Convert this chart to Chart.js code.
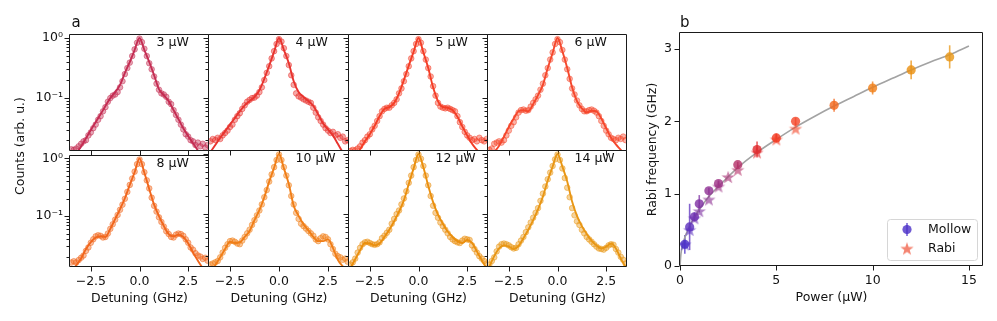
<!DOCTYPE html>
<html>
<head>
<meta charset="utf-8">
<script src="https://cdn.jsdelivr.net/npm/chart.js@4.4.1/dist/chart.umd.min.js"></script>
<style>
  html, body { margin: 0; padding: 0; background: #fff; }
  #fig { position: relative; width: 997px; height: 321px; overflow: hidden; background: #fff; }
  #fig canvas { position: absolute; }
</style>
</head>
<body>
<div id="fig"></div>
<script>
// ---- panel a: spectra (detuning in GHz, counts normalised) ----
const detuning = [-3.5,-3.375,-3.25,-3.125,-3,-2.875,-2.75,-2.625,-2.5,-2.375,-2.25,-2.125,-2,-1.875,-1.75,-1.625,-1.5,-1.375,-1.25,-1.125,-1,-0.875,-0.75,-0.625,-0.5,-0.375,-0.25,-0.125,0,0.125,0.25,0.375,0.5,0.625,0.75,0.875,1,1.125,1.25,1.375,1.5,1.625,1.75,1.875,2,2.125,2.25,2.375,2.5,2.625,2.75,2.875,3,3.125,3.25,3.375,3.5];
const fitDetuning = [-3.5,-3.25,-3,-2.75,-2.5,-2.25,-2,-1.75,-1.5,-1.25,-1,-0.75,-0.5,-0.25,0,0.25,0.5,0.75,1,1.25,1.5,1.75,2,2.25,2.5,2.75,3,3.25,3.5];
const powerLabels = ['3 µW','4 µW','5 µW','6 µW','8 µW','10 µW','12 µW','14 µW'];

const counts3 = [0.0141,0.0138,0.0145,0.0158,0.0174,0.0191,0.0200,0.0240,0.0269,0.0316,0.0363,0.0437,0.0501,0.0603,0.0708,0.0871,0.100,0.110,0.115,0.126,0.151,0.191,0.251,0.316,0.389,0.501,0.646,0.832,0.977,0.851,0.661,0.501,0.380,0.302,0.229,0.174,0.138,0.120,0.115,0.105,0.0871,0.0794,0.0631,0.0525,0.0437,0.0363,0.0302,0.0251,0.0229,0.0200,0.0191,0.0166,0.0182,0.0158,0.0174,0.0151,0.0166];
const counts4 = [0.0191,0.0209,0.0200,0.0219,0.0209,0.0240,0.0263,0.0288,0.0331,0.0363,0.0437,0.0501,0.0562,0.0661,0.0759,0.0871,0.0933,0.100,0.102,0.110,0.126,0.151,0.200,0.263,0.339,0.457,0.603,0.794,0.955,0.871,0.676,0.501,0.355,0.240,0.166,0.120,0.107,0.102,0.0955,0.0912,0.0871,0.0832,0.0692,0.0575,0.0479,0.0417,0.0363,0.0316,0.0288,0.0263,0.0275,0.0240,0.0251,0.0219,0.0229,0.0191,0.0200];
const counts5 = [0.0132,0.0138,0.0135,0.0145,0.0158,0.0182,0.0200,0.0229,0.0251,0.0302,0.0347,0.0417,0.0501,0.0603,0.0661,0.0692,0.0692,0.0759,0.0832,0.0955,0.120,0.145,0.191,0.251,0.339,0.457,0.603,0.794,0.955,0.832,0.603,0.437,0.316,0.229,0.158,0.110,0.0832,0.0724,0.0692,0.0676,0.0692,0.0661,0.0631,0.0603,0.0501,0.0398,0.0331,0.0275,0.0240,0.0219,0.0200,0.0209,0.0191,0.0219,0.0200,0.0191,0.0209];
const counts6 = [0.0138,0.0145,0.0174,0.0182,0.0191,0.0182,0.0200,0.0240,0.0288,0.0347,0.0398,0.0479,0.0575,0.0631,0.0646,0.0617,0.0631,0.0724,0.0832,0.0955,0.110,0.138,0.174,0.240,0.316,0.437,0.575,0.794,0.955,0.851,0.631,0.437,0.302,0.209,0.145,0.115,0.0912,0.0759,0.0661,0.0603,0.0603,0.0631,0.0646,0.0617,0.0575,0.0501,0.0417,0.0347,0.0288,0.0251,0.0219,0.0209,0.0200,0.0219,0.0209,0.0229,0.0200];
const counts8 = [0.0158,0.0166,0.0158,0.0174,0.0191,0.0209,0.0251,0.0288,0.0347,0.0398,0.0447,0.0468,0.0457,0.0427,0.0437,0.0501,0.0603,0.0724,0.0871,0.105,0.129,0.158,0.200,0.263,0.347,0.447,0.589,0.794,0.955,0.794,0.575,0.417,0.302,0.209,0.151,0.120,0.0955,0.0794,0.0661,0.0550,0.0490,0.0437,0.0427,0.0479,0.0501,0.0490,0.0457,0.0398,0.0347,0.0288,0.0263,0.0229,0.0209,0.0200,0.0182,0.0191,0.0170];
const counts10 = [0.0145,0.0151,0.0158,0.0166,0.0191,0.0229,0.0275,0.0316,0.0355,0.0363,0.0347,0.0324,0.0316,0.0363,0.0417,0.0479,0.0550,0.0661,0.0794,0.0955,0.115,0.145,0.191,0.251,0.347,0.457,0.603,0.794,0.977,0.794,0.603,0.437,0.302,0.200,0.145,0.105,0.0832,0.0692,0.0631,0.0575,0.0525,0.0479,0.0437,0.0380,0.0355,0.0398,0.0427,0.0417,0.0380,0.0316,0.0263,0.0219,0.0200,0.0191,0.0174,0.0182,0.0162];
const counts12 = [0.0145,0.0158,0.0182,0.0229,0.0275,0.0316,0.0339,0.0347,0.0331,0.0316,0.0309,0.0316,0.0339,0.0398,0.0437,0.0490,0.0550,0.0692,0.0832,0.100,0.115,0.145,0.182,0.240,0.331,0.437,0.603,0.794,0.977,0.832,0.631,0.437,0.302,0.200,0.138,0.105,0.0871,0.0724,0.0631,0.0550,0.0479,0.0417,0.0380,0.0355,0.0339,0.0331,0.0363,0.0389,0.0380,0.0372,0.0302,0.0263,0.0229,0.0200,0.0182,0.0166,0.0151];
const counts14 = [0.0145,0.0166,0.0191,0.0240,0.0288,0.0316,0.0324,0.0316,0.0302,0.0282,0.0269,0.0275,0.0316,0.0363,0.0417,0.0501,0.0603,0.0724,0.0871,0.105,0.126,0.166,0.219,0.288,0.380,0.490,0.631,0.813,0.977,0.794,0.575,0.398,0.275,0.191,0.126,0.0955,0.0759,0.0661,0.0550,0.0479,0.0417,0.0380,0.0347,0.0316,0.0288,0.0269,0.0263,0.0257,0.0275,0.0302,0.0316,0.0309,0.0263,0.0229,0.0195,0.0174,0.0151];

const fit3 = [0.0087,0.0117,0.0158,0.0214,0.0295,0.0398,0.0537,0.0741,0.100,0.126,0.166,0.263,0.398,0.631,1.0,0.631,0.398,0.240,0.141,0.112,0.0891,0.0631,0.0447,0.0316,0.0234,0.0178,0.0135,0.0100,0.0079];
const fit4 = [0.0126,0.0166,0.0219,0.0282,0.0363,0.0468,0.0603,0.0759,0.0891,0.105,0.135,0.209,0.347,0.589,1.0,0.631,0.380,0.191,0.126,0.105,0.0891,0.0741,0.0537,0.0380,0.0302,0.0240,0.0174,0.0126,0.0095];
const fit5 = [0.0079,0.0105,0.0141,0.0191,0.0251,0.0347,0.0501,0.0661,0.0708,0.0832,0.120,0.200,0.347,0.589,1.0,0.575,0.316,0.151,0.0891,0.0708,0.0692,0.0631,0.0490,0.0339,0.0240,0.0174,0.0138,0.0110,0.0087];
const fit6 = [0.0095,0.0126,0.0162,0.0229,0.0331,0.0457,0.0603,0.0631,0.0603,0.0794,0.112,0.166,0.316,0.562,1.0,0.603,0.316,0.151,0.0891,0.0676,0.0575,0.0617,0.0603,0.0457,0.0316,0.0219,0.0170,0.0138,0.0110];
const fit8 = [0.0100,0.0141,0.0186,0.0269,0.0355,0.0427,0.0447,0.0437,0.0603,0.0891,0.132,0.204,0.347,0.575,1.0,0.562,0.295,0.158,0.100,0.0676,0.0490,0.0447,0.0479,0.0437,0.0339,0.0234,0.0170,0.0126,0.0095];
const fit10 = [0.0105,0.0141,0.0191,0.0263,0.0347,0.0331,0.0339,0.0417,0.0525,0.0794,0.117,0.191,0.347,0.589,1.0,0.575,0.316,0.138,0.0933,0.0676,0.0537,0.0417,0.0355,0.0355,0.0380,0.0275,0.0174,0.0135,0.0105];
const fit12 = [0.0126,0.0178,0.0251,0.0331,0.0324,0.0302,0.0324,0.0417,0.0550,0.0759,0.110,0.170,0.316,0.575,1.0,0.603,0.295,0.158,0.0977,0.0692,0.0513,0.0417,0.0355,0.0331,0.0372,0.0331,0.0240,0.0170,0.0126];
const fit14 = [0.0135,0.0200,0.0269,0.0302,0.0288,0.0263,0.0295,0.0398,0.0550,0.0794,0.120,0.195,0.363,0.617,1.0,0.617,0.347,0.162,0.0933,0.0631,0.0468,0.0363,0.0302,0.0269,0.0288,0.0324,0.0269,0.0182,0.0132];

const detuningTicks = [-2.5, 0, 2.5];
const countMajorTicks = [0.1, 1];
const countMinorTicks = [0.02,0.03,0.04,0.05,0.06,0.07,0.08,0.09,0.2,0.3,0.4,0.5,0.6,0.7,0.8,0.9];

// ---- panel b: Rabi frequency vs power ----
const mollowPower = [0.25,0.5,0.75,1,1.5,2,3,4,5,6,8,10,12,14];
const mollowRabi  = [0.30,0.54,0.68,0.86,1.04,1.14,1.40,1.61,1.77,2.00,2.22,2.46,2.71,2.89];
const mollowErr   = [0.13,0.32,0.06,0.12,0.04,0.04,0.04,0.11,0.06,0.05,0.09,0.09,0.13,0.16];
const rabiPower = [0.25,0.5,0.75,1,1.5,2,2.5,3,4,5,6];
const rabiFreq  = [0.30,0.50,0.66,0.76,0.92,1.10,1.23,1.33,1.57,1.75,1.90];
const fitPower = [0,0.05,0.15,0.3,0.5,0.75,1,1.5,2,3,4,5,6,7,8,9,10,11,12,13,14,15];
const fitRabi  = [0,0.17,0.30,0.43,0.55,0.68,0.78,0.96,1.10,1.36,1.57,1.75,1.92,2.07,2.21,2.34,2.47,2.59,2.71,2.82,2.92,3.04];

// colours
const spectrumColors = ['#c42c52','#e8332e','#f43d26','#f5472c','#f1661c','#f07e17','#ea8f0e','#e89614'];
const mollowColors = ['#4b30c8','#5c30be','#6e30b1','#7e30a2','#8e3093','#9c3084','#b42f68','#e0282c','#f23a22','#f4472a','#f1661c','#f07e17','#ea8f0e','#e89614'];
const rabiColors = ['#4b30c8','#5c30be','#6e30b1','#7e30a2','#8e3093','#9c3084','#aa3076','#b42f68','#e0282c','#f23a22','#f4472a'];

const spectra = [counts3, counts4, counts5, counts6, counts8, counts10, counts12, counts14];
const fits = [fit3, fit4, fit5, fit6, fit8, fit10, fit12, fit14];

Chart.defaults.font.family = "'DejaVu Sans'";
Chart.defaults.font.size = 12.5;
Chart.defaults.color = '#111';

const FONT = "'DejaVu Sans'";

function rgba(hex, a) {
  const n = parseInt(hex.slice(1), 16);
  return 'rgba(' + (n >> 16) + ',' + ((n >> 8) & 255) + ',' + (n & 255) + ',' + a + ')';
}

function addCanvas(left, top, w, h) {
  const c = document.createElement('canvas');
  c.width = w; c.height = h;
  c.style.left = left + 'px'; c.style.top = top + 'px';
  c.style.width = w + 'px'; c.style.height = h + 'px';
  document.getElementById('fig').appendChild(c);
  return c;
}

// frame + tick marks (matplotlib style, outward)
const axisMarks = {
  id: 'axisMarks',
  afterDraw(chart, args, o) {
    const { ctx, chartArea: a } = chart;
    const xs = chart.scales.x, ys = chart.scales.y;
    const L = Math.round(a.left) - 0.5, R = Math.round(a.right) - 0.5;
    const T = Math.round(a.top) - 0.5, B = Math.round(a.bottom) - 0.5;
    ctx.save();
    ctx.strokeStyle = '#1a1a1a';
    ctx.lineWidth = 1;
    ctx.beginPath();
    ctx.rect(L, T, R - L, B - T);
    (o.xMajor || []).forEach(v => {
      const p = Math.round(xs.getPixelForValue(v)) + 0.5;
      ctx.moveTo(p, B); ctx.lineTo(p, B + 5);
    });
    (o.yMajor || []).forEach(v => {
      const p = Math.round(ys.getPixelForValue(v)) + 0.5;
      ctx.moveTo(L, p); ctx.lineTo(L - 5, p);
    });
    (o.yMinor || []).forEach(v => {
      const p = Math.round(ys.getPixelForValue(v)) + 0.5;
      ctx.moveTo(L, p); ctx.lineTo(L - 3, p);
    });
    ctx.stroke();
    ctx.restore();
  }
};

// free text placed relative to the chart area
const textMarks = {
  id: 'textMarks',
  afterDraw(chart, args, o) {
    const { ctx, chartArea: a } = chart;
    ctx.save();
    ctx.fillStyle = '#111';
    (o.items || []).forEach(t => {
      ctx.save();
      ctx.font = (t.size || 12.5) + 'px ' + FONT;
      ctx.textAlign = t.align || 'left';
      ctx.textBaseline = t.baseline || 'middle';
      ctx.translate(a.left + t.x, a.top + t.y);
      if (t.rot) ctx.rotate(t.rot);
      ctx.fillText(t.text, 0, 0);
      ctx.restore();
    });
    ctx.restore();
  }
};

const fmtDet = v => (v < 0 ? '\u2212' : '') + Math.abs(v).toFixed(1);
const fmtLog = v => (v === 1 ? '10\u2070' : (v === 0.1 ? '10\u207B\u00B9' : ''));

// ---- panel a: 2 x 4 grid ----
const colL = [70, 209, 349, 488];
const colR = [209, 349, 488, 627];
const rowT = [35, 151];
const rowB = [151, 267];

spectra.forEach((counts, i) => {
  const r = Math.floor(i / 4), c = i % 4;
  const L = colL[c], R = colR[c], T = rowT[r], B = rowB[r];
  const padTop = r === 0 ? 30 : 10;
  const cv = addCanvas(L - 62, T - padTop, (R - L) + 62 + 10, (B - T) + padTop + 50);
  const col = spectrumColors[i];
  const items = [{ text: powerLabels[i], x: 86.5, y: 8 }];
  if (i === 0) {
    items.push({ text: 'a', x: 1.5, y: -8.5, size: 15, baseline: 'alphabetic' });
    items.push({ text: 'Counts (arb. u.)', x: -49, y: 111, rot: -Math.PI / 2, align: 'center' });
  }
  new Chart(cv, {
    type: 'line',
    data: {
      datasets: [
        {
          data: fitDetuning.map((x, k) => ({ x, y: fits[i][k] })),
          borderColor: col, borderWidth: 1.9, pointRadius: 0,
          cubicInterpolationMode: 'monotone', fill: false
        },
        {
          data: detuning.map((x, k) => ({ x, y: counts[k] })),
          showLine: false, pointRadius: 2.8, pointBorderWidth: 0.8,
          pointBackgroundColor: rgba(col, 0.42), pointBorderColor: rgba(col, 0.62)
        }
      ]
    },
    options: {
      responsive: false, animation: false, events: [],
      layout: { padding: { left: 0, top: padTop, right: 10, bottom: 0 } },
      plugins: {
        legend: { display: false }, tooltip: { enabled: false },
        axisMarks: { xMajor: detuningTicks, yMajor: countMajorTicks, yMinor: countMinorTicks },
        textMarks: { items }
      },
      scales: {
        x: {
          type: 'linear', min: -3.57, max: 3.57,
          afterFit: s => { s.height = 50; },
          afterBuildTicks: s => { s.ticks = detuningTicks.map(v => ({ value: v })); },
          grid: { display: false, drawTicks: false }, border: { display: false },
          ticks: { display: r === 1, padding: 7, autoSkip: false, maxRotation: 0, callback: fmtDet },
          title: { display: r === 1, text: 'Detuning (GHz)', padding: { top: 0, bottom: 10.5 } }
        },
        y: {
          type: 'logarithmic', min: 0.0132, max: 1.12,
          afterFit: s => { s.width = 62; },
          afterBuildTicks: s => { s.ticks = countMajorTicks.map(v => ({ value: v })); },
          grid: { display: false, drawTicks: false }, border: { display: false },
          ticks: { display: c === 0, padding: 7, autoSkip: false, callback: fmtLog }
        }
      }
    },
    plugins: [axisMarks, textMarks]
  });
});

// ---- panel b ----
function starImage(hex, alpha, R) {
  const s = Math.ceil(R * 2 + 2);
  const cv = document.createElement('canvas');
  cv.width = s; cv.height = s;
  const g = cv.getContext('2d');
  g.translate(s / 2, s / 2 + R * 0.1);
  g.beginPath();
  for (let k = 0; k < 10; k++) {
    const rr = k % 2 ? R * 0.4 : R;
    const ang = -Math.PI / 2 + k * Math.PI / 5;
    g.lineTo(rr * Math.cos(ang), rr * Math.sin(ang));
  }
  g.closePath();
  g.fillStyle = rgba(hex, alpha);
  g.fill();
  return cv;
}

const errorBars = {
  id: 'errorBars',
  beforeDatasetsDraw(chart) {
    const { ctx } = chart;
    const xs = chart.scales.x, ys = chart.scales.y;
    ctx.save();
    ctx.lineWidth = 1.6;
    mollowPower.forEach((p, k) => {
      const x = xs.getPixelForValue(p);
      ctx.strokeStyle = rgba(mollowColors[k], 0.75);
      ctx.beginPath();
      ctx.moveTo(x, ys.getPixelForValue(mollowRabi[k] - mollowErr[k]));
      ctx.lineTo(x, ys.getPixelForValue(mollowRabi[k] + mollowErr[k]));
      ctx.stroke();
    });
    ctx.restore();
  }
};

const legendBox = {
  id: 'legendBox',
  afterDraw(chart) {
    const { ctx, chartArea: a } = chart;
    const w = 90, h = 41;
    const x0 = Math.round(a.right) - 6 - w, y0 = Math.round(a.bottom) - 6 - h;
    ctx.save();
    ctx.beginPath();
    ctx.roundRect(x0 + 0.5, y0 + 0.5, w, h, 3);
    ctx.fillStyle = 'rgba(255,255,255,0.8)';
    ctx.fill();
    ctx.strokeStyle = '#d6d6d6';
    ctx.lineWidth = 1;
    ctx.stroke();
    // Mollow entry
    const mx = x0 + 20, my1 = y0 + 10.5, my2 = y0 + 29.5;
    ctx.strokeStyle = rgba('#4b30c8', 0.75);
    ctx.lineWidth = 1.6;
    ctx.beginPath(); ctx.moveTo(mx, my1 - 6.5); ctx.lineTo(mx, my1 + 6.5); ctx.stroke();
    ctx.fillStyle = rgba('#4b30c8', 0.8);
    ctx.beginPath(); ctx.arc(mx, my1, 4.6, 0, Math.PI * 2); ctx.fill();
    // Rabi entry
    const st = starImage('#f0553a', 0.72, 7);
    ctx.drawImage(st, mx - st.width / 2, my2 - st.height / 2);
    ctx.fillStyle = '#111';
    ctx.font = '12.5px ' + FONT;
    ctx.textAlign = 'left';
    ctx.textBaseline = 'middle';
    ctx.fillText('Mollow', x0 + 41, my1);
    ctx.fillText('Rabi', x0 + 41, my2);
    ctx.restore();
  }
};

const cvB = addCanvas(630, 0, 367, 321);
new Chart(cvB, {
  type: 'line',
  data: {
    datasets: [
      {
        data: rabiPower.map((x, k) => ({ x, y: rabiFreq[k] })),
        showLine: false,
        pointStyle: rabiColors.map(cl => starImage(cl, 0.62, 7)),
        pointRadius: 7
      },
      {
        data: mollowPower.map((x, k) => ({ x, y: mollowRabi[k] })),
        showLine: false, pointRadius: 4.6, pointBorderWidth: 0,
        pointBackgroundColor: mollowColors.map(cl => rgba(cl, 0.8))
      },
      {
        data: fitPower.map((x, k) => ({ x, y: fitRabi[k] })),
        borderColor: '#a3a3a3', borderWidth: 1.6, pointRadius: 0,
        cubicInterpolationMode: 'monotone', fill: false
      }
    ]
  },
  options: {
    responsive: false, animation: false, events: [],
    layout: { padding: { left: 0, top: 33, right: 14, bottom: 0 } },
    plugins: {
      legend: { display: false }, tooltip: { enabled: false },
      axisMarks: { xMajor: [0, 5, 10, 15], yMajor: [0, 1, 2, 3] },
      textMarks: { items: [{ text: 'b', x: 0, y: -6.5, size: 15, baseline: 'alphabetic' }] }
    },
    scales: {
      x: {
        type: 'linear', min: 0, max: 15.73,
        afterFit: s => { s.height = 55; },
        grid: { display: false, drawTicks: false }, border: { display: false },
        ticks: { stepSize: 5, includeBounds: false, padding: 7, maxRotation: 0 },
        title: { display: true, text: 'Power (µW)', padding: { top: 0, bottom: 15.8 } }
      },
      y: {
        type: 'linear', min: 0, max: 3.22,
        afterFit: s => { s.width = 50; },
        grid: { display: false, drawTicks: false }, border: { display: false },
        ticks: { stepSize: 1, includeBounds: false, padding: 8 },
        title: { display: true, text: 'Rabi frequency (GHz)', padding: { top: 15, bottom: 0 } }
      }
    }
  },
  plugins: [errorBars, axisMarks, textMarks, legendBox]
});
</script>
</body>
</html>
